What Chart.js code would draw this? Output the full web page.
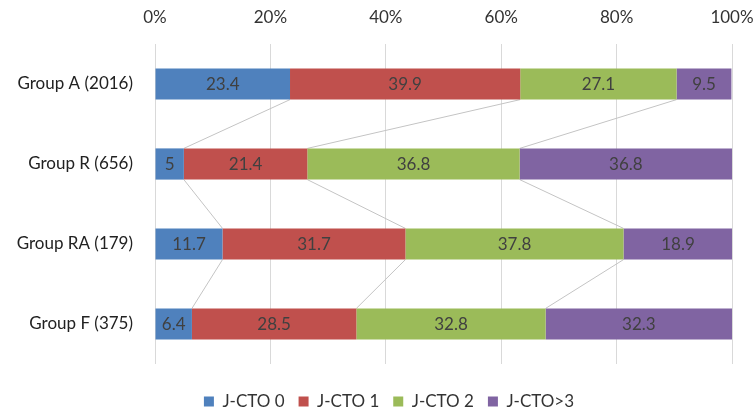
<!DOCTYPE html>
<html>
<head>
<meta charset="utf-8">
<script src="https://cdn.jsdelivr.net/npm/chart.js@4/dist/chart.umd.min.js"></script>
<style>
  html, body { margin: 0; padding: 0; background: #ffffff; }
  #wrap { width: 754px; height: 410px; }
</style>
</head>
<body>
<div id="wrap"><canvas id="c" width="754" height="410"></canvas></div>
<script>
// Groups and J-CTO score distribution (%)
const groups = ['Group A (2016)', 'Group R (656)', 'Group RA (179)', 'Group F (375)'];
const seriesNames = ['J-CTO 0', 'J-CTO 1', 'J-CTO 2', 'J-CTO>3'];
const jcto0 = [23.4, 5, 11.7, 6.4];
const jcto1 = [39.9, 21.4, 31.7, 28.5];
const jcto2 = [27.1, 36.8, 37.8, 32.8];
const jcto3 = [9.5, 36.8, 18.9, 32.3];
const xTicks = [0, 20, 40, 60, 80, 100];

const colors = ['#4F81BD', '#C0504D', '#9BBB59', '#8064A2'];
const FONT = 'Lato, "Open Sans", sans-serif';

// Thin grey connectors between the segment boundaries of adjacent bars
const connectors = {
  id: 'connectors',
  beforeDatasetsDraw(chart) {
    const ctx = chart.ctx;
    const metas = chart.data.datasets.map((d, i) => chart.getDatasetMeta(i));
    ctx.save();
    ctx.strokeStyle = '#c4c4c4';
    ctx.lineWidth = 1;
    for (let s = 0; s < metas.length - 1; s++) {
      const bars = metas[s].data;
      for (let g = 0; g < bars.length - 1; g++) {
        const a = bars[g].getProps(['x', 'y', 'height'], true);
        const b = bars[g + 1].getProps(['x', 'y', 'height'], true);
        ctx.beginPath();
        ctx.moveTo(a.x, a.y + a.height / 2);
        ctx.lineTo(b.x, b.y - b.height / 2);
        ctx.stroke();
      }
    }
    ctx.restore();
  }
};

// Value labels centred in each segment
const valueLabels = {
  id: 'valueLabels',
  afterDatasetsDraw(chart) {
    const ctx = chart.ctx;
    ctx.save();
    ctx.font = '17px ' + FONT;
    ctx.fillStyle = '#404040';
    ctx.textAlign = 'center';
    ctx.textBaseline = 'middle';
    chart.data.datasets.forEach((ds, i) => {
      chart.getDatasetMeta(i).data.forEach((bar, j) => {
        const p = bar.getProps(['x', 'y', 'base'], true);
        ctx.fillText(String(ds.data[j]), (p.x + p.base) / 2, p.y + 1);
      });
    });
    ctx.restore();
  }
};

// Fixed height for the bottom legend band, with the row nudged into place
const legendBand = {
  id: 'legendBand',
  afterInit(chart) {
    const legend = chart.legend;
    if (!legend) return;
    const fit = legend.fit.bind(legend);
    legend.fit = function () {
      fit();
      this.height = 46;
      this.bottom = this.top + this.height;
    };
  },
  afterLayout(chart) {
    const legend = chart.legend;
    if (!legend) return;
    legend.top += 15;
    legend.bottom += 15;
    legend.left += 12;
    legend.right += 12;
  }
};

const series = [jcto0, jcto1, jcto2, jcto3];

new Chart(document.getElementById('c'), {
  type: 'bar',
  data: {
    labels: groups,
    datasets: series.map((vals, i) => ({
      label: seriesNames[i],
      data: vals,
      backgroundColor: colors[i],
      borderWidth: 0,
      categoryPercentage: 1,
      barPercentage: 0.39
    }))
  },
  options: {
    indexAxis: 'y',
    responsive: false,
    animation: false,
    layout: { padding: { left: 0, right: 0, top: 0, bottom: 0 } },
    scales: {
      x: {
        position: 'top',
        stacked: true,
        min: 0,
        max: 100,
        afterBuildTicks(scale) { scale.ticks = xTicks.map(v => ({ value: v })); },
        afterFit(scale) {
          scale.height = 44;
          scale.paddingLeft = 0;
          scale.paddingRight = 22;
        },
        ticks: {
          callback: v => v + '%',
          font: { family: FONT, size: 17 },
          color: '#333333',
          padding: 16,
          maxRotation: 0
        },
        grid: { color: '#d9d9d9', drawTicks: false },
        border: { display: false }
      },
      y: {
        stacked: true,
        afterFit(scale) { scale.width = 155; },
        ticks: {
          font: { family: FONT, size: 17 },
          color: '#222222',
          padding: 14
        },
        grid: { display: false },
        border: { display: false }
      }
    },
    plugins: {
      legend: {
        position: 'bottom',
        labels: {
          boxWidth: 10,
          boxHeight: 10,
          font: { family: FONT, size: 17 },
          color: '#333333',
          padding: 14
        }
      },
      tooltip: { enabled: false }
    }
  },
  plugins: [legendBand, connectors, valueLabels]
});
</script>
</body>
</html>
